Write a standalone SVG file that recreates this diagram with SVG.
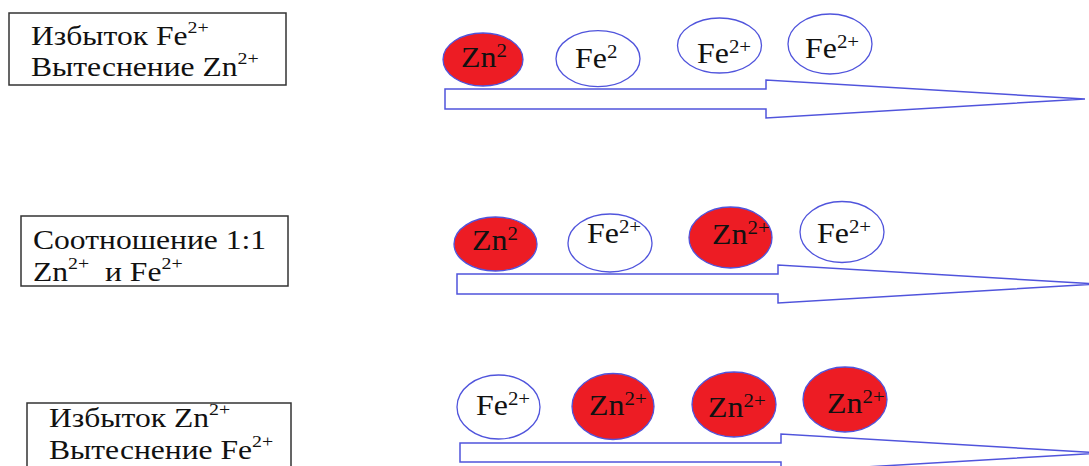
<svg xmlns="http://www.w3.org/2000/svg" width="1089" height="466" viewBox="0 0 1089 466">
<style>
.box{fill:#fff;stroke:#333;stroke-width:1.5}
.lbl{font-family:"Liberation Serif","Times New Roman",serif;font-size:27px;fill:#111}
.ion{font-family:"Liberation Serif","Times New Roman",serif;font-size:29px;fill:#111}
.sup{font-size:17px}
.isup{font-size:19px}
.zn{fill:#ED1C24;stroke:#5054DC;stroke-width:1.3}
.fe{fill:#fff;stroke:#5054DC;stroke-width:1.3}
.arr{fill:none;stroke:#5054DC;stroke-width:1.5;stroke-linejoin:miter}
</style>
<rect width="1089" height="466" fill="#fff"/>
<g id="connectors">
<path class="arr" d="M445,89 H766 V80 L1085,99 L766,118 V109 H445 Z"/>
<path class="arr" d="M457,274 H778 V265 L1097,284 L778,303 V294 H457 Z"/>
<path class="arr" d="M460,443 H781 V434 L1100,453 L781,472 V462 H460 Z"/>
</g>
<g id="label1">
<rect class="box" x="9" y="13" width="277" height="72"/>
<text class="lbl" transform="translate(31,45) scale(1.17,1)">Избыток Fe<tspan class="sup" dy="-12">2+</tspan></text>
<text class="lbl" transform="translate(31,76) scale(1.17,1)">Вытеснение Zn<tspan class="sup" dy="-12">2+</tspan></text>
</g>
<g id="label2">
<rect class="box" x="21" y="216" width="267" height="70"/>
<text class="lbl" transform="translate(33,249) scale(1.17,1)">Соотношение 1:1</text>
<text class="lbl" transform="translate(33,281) scale(1.17,1)">Zn<tspan class="sup" dy="-12">2+</tspan><tspan dy="12" xml:space="preserve">  и Fe</tspan><tspan class="sup" dy="-12">2+</tspan></text>
</g>
<g id="label3">
<rect class="box" x="27" y="403" width="264" height="80"/>
<text class="lbl" transform="translate(49,427) scale(1.17,1)">Избыток Zn<tspan class="sup" dy="-12">2+</tspan></text>
<text class="lbl" transform="translate(49,459) scale(1.17,1)">Вытеснение Fe<tspan class="sup" dy="-12">2+</tspan></text>
</g>
<g id="r1e1"><ellipse class="zn" cx="483" cy="59.5" rx="40" ry="26.5"/><text class="ion" transform="translate(461,67) scale(1.1,1)">Zn<tspan class="isup" dy="-10">2</tspan></text></g>
<g id="r1e2"><ellipse class="fe" cx="598" cy="58.7" rx="42" ry="28"/><text class="ion" transform="translate(575,68) scale(1.1,1)">Fe<tspan class="isup" dy="-10">2</tspan></text></g>
<g id="r1e3"><ellipse class="fe" cx="719.5" cy="45.5" rx="42" ry="27.5"/><text class="ion" transform="translate(697,63) scale(1.1,1)">Fe<tspan class="isup" dy="-10">2+</tspan></text></g>
<g id="r1e4"><ellipse class="fe" cx="830" cy="44" rx="42" ry="30"/><text class="ion" transform="translate(805,58) scale(1.1,1)">Fe<tspan class="isup" dy="-10">2+</tspan></text></g>
<g id="r2e1"><ellipse class="zn" cx="495.5" cy="244" rx="41.5" ry="27"/><text class="ion" transform="translate(472,250) scale(1.1,1)">Zn<tspan class="isup" dy="-10">2</tspan></text></g>
<g id="r2e2"><ellipse class="fe" cx="610" cy="243" rx="42" ry="29"/><text class="ion" transform="translate(587,243) scale(1.1,1)">Fe<tspan class="isup" dy="-10">2+</tspan></text></g>
<g id="r2e3"><ellipse class="zn" cx="730.5" cy="237.5" rx="41.5" ry="30.5"/><text class="ion" transform="translate(712,244) scale(1.1,1)">Zn<tspan class="isup" dy="-10">2+</tspan></text></g>
<g id="r2e4"><ellipse class="fe" cx="842" cy="232" rx="42" ry="30.5"/><text class="ion" transform="translate(817,243) scale(1.1,1)">Fe<tspan class="isup" dy="-10">2+</tspan></text></g>
<g id="r3e1"><ellipse class="fe" cx="498.5" cy="407" rx="41.5" ry="32"/><text class="ion" transform="translate(476,415) scale(1.1,1)">Fe<tspan class="isup" dy="-10">2+</tspan></text></g>
<g id="r3e2"><ellipse class="zn" cx="613" cy="406.5" rx="41" ry="33"/><text class="ion" transform="translate(589,415) scale(1.1,1)">Zn<tspan class="isup" dy="-10">2+</tspan></text></g>
<g id="r3e3"><ellipse class="zn" cx="734" cy="404.5" rx="42" ry="32.5"/><text class="ion" transform="translate(708,417) scale(1.1,1)">Zn<tspan class="isup" dy="-10">2+</tspan></text></g>
<g id="r3e4"><ellipse class="zn" cx="845" cy="399.5" rx="42" ry="32.5"/><text class="ion" transform="translate(827,413) scale(1.1,1)">Zn<tspan class="isup" dy="-10">2+</tspan></text></g>
</svg>
